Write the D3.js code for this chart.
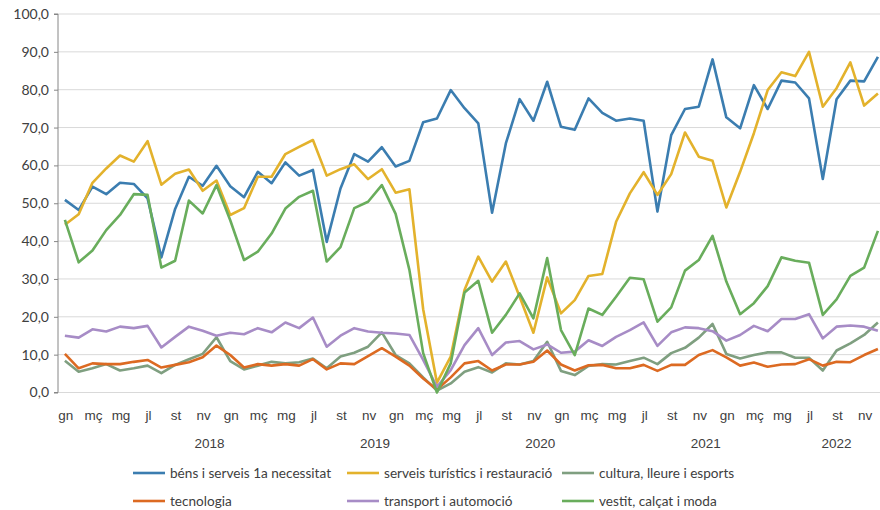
<!DOCTYPE html>
<html>
<head>
<meta charset="utf-8">
<script src="https://cdn.jsdelivr.net/npm/d3@7"></script>
<style>
  body { margin: 0; background: #fff; }
  svg { display: block; }
  .tick-y { font-family: Lato, "Open Sans", sans-serif; font-size: 14px; fill: #404040; }
  .tick-x { font-family: "Liberation Sans Narrow", sans-serif; font-size: 13.5px; fill: #404040; }
  .legend { font-family: Lato, "Open Sans", sans-serif; font-size: 13.6px; fill: #404040; }
</style>
</head>
<body>
<svg id="chart" width="880" height="510"></svg>
<script>
// monthly series, gn 2018 .. ds 2022
const bens = [50.9, 48.2, 54.4, 52.4, 55.4, 55.1, 51.3, 35.7, 48.5, 57.0, 54.6, 59.9,
  54.5, 51.6, 58.3, 55.3, 60.8, 57.3, 58.8, 39.8, 53.9, 63.0, 61.0, 64.8,
  59.7, 61.2, 71.4, 72.4, 79.9, 75.1, 71.1, 47.5, 65.8, 77.5, 71.8, 82.1,
  70.2, 69.4, 77.7, 73.9, 71.8, 72.4, 71.8, 47.8, 68.0, 74.9, 75.5, 88.0,
  72.7, 69.8, 81.2, 74.9, 82.4, 81.9, 77.7, 56.4, 77.5, 82.4, 82.2, 88.7]
const turisme = [44.3, 47.1, 55.4, 59.2, 62.6, 61.0, 66.4, 54.9, 57.8, 58.9, 53.3, 56.0,
  46.9, 48.7, 57.0, 57.0, 63.0, 64.9, 66.7, 57.3, 59.0, 60.3, 56.4, 59.0,
  52.8, 53.7, 22.0, 2.6, 9.5, 27.1, 35.9, 29.3, 34.6, 25.3, 15.8, 30.4,
  20.9, 24.4, 30.8, 31.3, 45.1, 52.6, 58.2, 52.2, 57.7, 68.7, 62.3, 61.2,
  48.9, 58.3, 68.5, 79.9, 84.6, 83.6, 90.0, 75.5, 80.4, 87.2, 75.8, 79.0]
const cultura = [8.4, 5.5, 6.4, 7.5, 5.8, 6.4, 7.1, 5.1, 7.3, 8.8, 10.2, 14.6,
  8.3, 6.1, 7.1, 8.1, 7.7, 8.0, 9.0, 6.4, 9.5, 10.5, 12.1, 15.9,
  9.9, 7.7, 4.0, 0.5, 2.4, 5.5, 6.7, 5.3, 7.7, 7.4, 8.3, 13.4,
  5.7, 4.6, 7.0, 7.5, 7.4, 8.3, 9.2, 7.5, 10.4, 11.8, 14.5, 18.1,
  10.2, 9.0, 9.9, 10.6, 10.6, 9.2, 9.2, 5.8, 11.1, 13.0, 15.2, 18.5]
const tecnologia = [10.2, 6.4, 7.7, 7.5, 7.5, 8.1, 8.6, 6.6, 7.3, 8.0, 9.3, 12.4,
  9.9, 6.6, 7.5, 7.1, 7.5, 7.1, 8.8, 6.1, 7.7, 7.5, 9.6, 11.7,
  9.5, 7.1, 3.7, 0.8, 4.0, 7.7, 8.3, 5.8, 7.4, 7.4, 8.1, 11.1,
  7.4, 5.8, 7.2, 7.3, 6.4, 6.4, 7.3, 5.7, 7.3, 7.3, 9.9, 11.2,
  9.3, 7.1, 7.9, 6.8, 7.4, 7.5, 8.8, 7.1, 8.1, 8.0, 9.9, 11.5]
const transport = [15.0, 14.5, 16.7, 16.1, 17.4, 17.0, 17.6, 11.9, 14.7, 17.4, 16.3, 15.0,
  15.8, 15.4, 17.0, 15.9, 18.5, 17.0, 19.8, 12.1, 15.0, 17.0, 16.1, 15.8,
  15.6, 15.2, 8.6, 1.5, 5.9, 12.5, 17.0, 9.9, 13.2, 13.6, 11.4, 12.7,
  10.5, 10.8, 13.8, 12.3, 14.7, 16.5, 18.5, 12.3, 15.9, 17.2, 17.0, 16.2,
  13.7, 15.2, 17.6, 16.2, 19.4, 19.4, 20.7, 14.3, 17.4, 17.7, 17.4, 16.3]
const vestit = [45.6, 34.4, 37.5, 42.9, 46.9, 52.4, 52.2, 33.0, 34.8, 50.7, 47.3, 54.8,
  45.5, 35.0, 37.2, 42.0, 48.6, 51.7, 53.3, 34.6, 38.4, 48.7, 50.4, 54.8,
  47.2, 32.4, 10.4, 0.0, 7.7, 26.4, 29.5, 15.8, 20.5, 26.2, 19.6, 35.5,
  16.5, 9.9, 22.2, 20.5, 25.3, 30.3, 29.9, 18.7, 22.5, 32.2, 35.0, 41.4,
  29.3, 20.7, 23.6, 28.1, 35.7, 34.8, 34.3, 20.5, 24.6, 30.8, 33.0, 42.7]

const monthNames = ["gn", "fb", "mç", "ab", "mg", "jn", "jl", "ag", "st", "oc", "nv", "ds"]
const years = ["2018", "2019", "2020", "2021", "2022"]
const yearStart = [5, 17, 29, 41, 53]   // month index where each year label group begins
const yTicks = [0, 10, 20, 30, 40, 50, 60, 70, 80, 90, 100]

const seriesNames = ["béns i serveis 1a necessitat", "serveis turístics i restauració",
  "cultura, lleure i esports", "tecnologia", "transport i automoció", "vestit, calçat i moda"]
const seriesValues = [bens, turisme, cultura, tecnologia, transport, vestit]
const colors = ["#3b7db0", "#e3b22c", "#7f9f80", "#dc6a22", "#a78cc6", "#69ad5c"]

const n = bens.length
const svg = d3.select("#chart")

const x = d3.scaleBand()
  .domain(d3.range(n))
  .range([58, 58 + n * 13.78])
const y = d3.scaleLinear().domain([0, 100]).range([392.5, 14])
const cx = i => x(i) + x.bandwidth() / 2

// gridlines
svg.append("g")
  .selectAll("line")
  .data(yTicks)
  .join("line")
  .attr("x1", 58)
  .attr("x2", 880)
  .attr("y1", d => y(d))
  .attr("y2", d => y(d))
  .attr("stroke", "#d9d9d9")
  .attr("stroke-width", 1)

// y axis
const yAxis = d3.axisLeft(y)
  .tickValues(yTicks)
  .tickSize(4)
  .tickFormat(d => d3.format(".1f")(d).replace(".", ","))
const gy = svg.append("g").attr("transform", "translate(58,0)").call(yAxis)
gy.select(".domain").attr("stroke", "#868686").attr("d", `M-4,${y(0)}H0V${y(100)}H-4`)
gy.selectAll(".tick line").attr("stroke", "#868686")
gy.selectAll(".tick text")
  .attr("class", "tick-y")
  .attr("x", -9)
  .attr("font-family", null)
  .attr("font-size", null)
  .attr("fill", null)

// month labels
svg.append("g")
  .selectAll("text")
  .data(d3.range(0, n, 2))
  .join("text")
  .attr("class", "tick-x")
  .attr("x", d => cx(d) + 1)
  .attr("y", 420)
  .attr("text-anchor", "middle")
  .text(d => monthNames[d % 12])

// year labels, centred on their group
svg.append("g")
  .selectAll("text")
  .data(years)
  .join("text")
  .attr("class", "tick-x")
  .attr("x", (d, i) => {
    const a = yearStart[i]
    const b = i < years.length - 1 ? yearStart[i + 1] : n
    return (x(a) + x(b - 1) + x.bandwidth()) / 2
  })
  .attr("y", 448)
  .attr("text-anchor", "middle")
  .text(d => d)

// lines
const line = d3.line()
  .x((d, i) => cx(i))
  .y(d => y(d))

svg.append("g")
  .selectAll("path")
  .data(seriesValues)
  .join("path")
  .attr("d", d => line(d))
  .attr("fill", "none")
  .attr("stroke", (d, i) => colors[i])
  .attr("stroke-width", 2.6)
  .attr("stroke-linejoin", "round")

// legend
const legX = [133, 347, 562]
const legY = [473, 501]
const leg = svg.append("g")
  .selectAll("g")
  .data(seriesNames)
  .join("g")
  .attr("transform", (d, i) => `translate(${legX[i % 3]},${legY[Math.floor(i / 3)]})`)

leg.append("line")
  .attr("x1", 0)
  .attr("x2", 32)
  .attr("stroke", (d, i) => colors[i])
  .attr("stroke-width", 2.6)

leg.append("text")
  .attr("class", "legend")
  .attr("x", 37)
  .attr("dy", "0.35em")
  .text(d => d)
</script>
</body>
</html>
